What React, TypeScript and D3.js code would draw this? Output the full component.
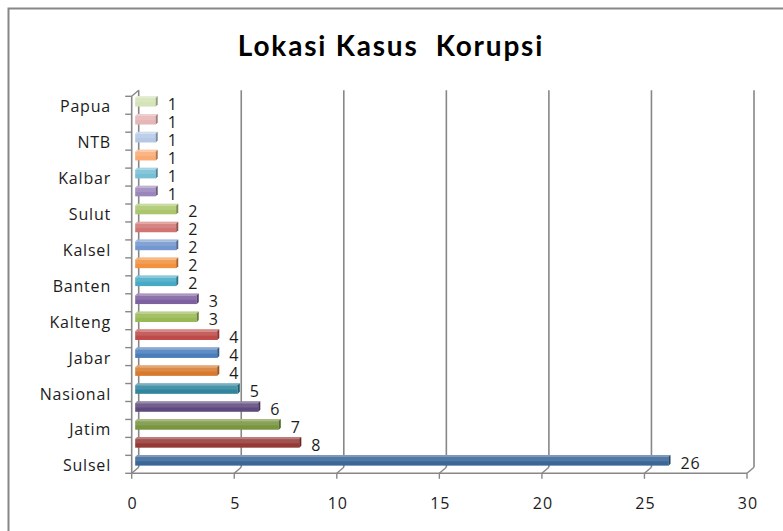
import React from 'react';
import { scaleLinear, scaleBand, range } from 'd3';

// bottom to top; Excel only printed every other category name
const categories = ['Sulsel', '', 'Jatim', '', 'Nasional', '', 'Jabar', '', 'Kalteng', '', 'Banten', '', 'Kalsel', '', 'Sulut', '', 'Kalbar', '', 'NTB', '', 'Papua'];
const values = [26, 8, 7, 6, 5, 4, 4, 4, 3, 3, 2, 2, 2, 2, 2, 1, 1, 1, 1, 1, 1];
const xTicks = [0, 5, 10, 15, 20, 25, 30];

// "vary colors by point" palette
const colors = [
  '#3b6698', '#953937', '#78953f', '#5f4a7d', '#31869e', '#d87a2e',
  '#4a7ebb', '#be4b48', '#98b954', '#7d60a0', '#46aac5', '#f29140',
  '#7497d0', '#d07572', '#abc66d', '#9a86ba', '#76bfd5', '#fbaa72',
  '#b5c9e6', '#e5b6b5', '#d4e3b8',
];

const W = 783;
const H = 531;
const DX = 7;
const DY = -6;
const FONT = "'Open Sans', sans-serif";
const GRID = '#878787';
const INK = '#1c1c1c';

function App() {
  const x = scaleLinear().domain([0, 30]).range([131.7, 747]);
  const idx = range(values.length);
  const y = scaleBand<number>()
    .domain([...idx].reverse())
    .range([96.3, 473.3])
    .paddingInner(0.52)
    .paddingOuter(0.26);
  const step = y.step();
  const bw = y.bandwidth();
  const top = 96.3;
  const bottom = 473.3;
  const x0 = x(0);

  return (
    <svg width={W} height={H} style={{ position: 'absolute', left: 0, top: 0, background: '#fff' }}>
      <rect x={8.5} y={8.5} width={W + 20} height={H + 20} fill="#fff" stroke={GRID} strokeWidth={2} />
      <text x={391} y={56} textAnchor="middle" fontFamily="Lato, sans-serif" fontWeight="bold" fontSize={28}
        letterSpacing={1.8} style={{ whiteSpace: 'pre' }} fill="#000">
        Lokasi Kasus  Korupsi
      </text>

      {/* back wall gridlines */}
      {xTicks.map((t) => (
        <line key={'g' + t} x1={x(t) + DX} x2={x(t) + DX} y1={top + DY} y2={bottom + DY} stroke={GRID} strokeWidth={1.6} />
      ))}
      {/* floor depth lines */}
      {xTicks.map((t) => (
        <line key={'f' + t} x1={x(t)} x2={x(t) + DX} y1={bottom} y2={bottom + DY} stroke={GRID} strokeWidth={1.4} />
      ))}
      {/* left wall */}
      <line x1={x0} x2={x0 + DX} y1={top} y2={top + DY} stroke={GRID} strokeWidth={1.4} />
      <line x1={x0} x2={x0} y1={top} y2={bottom} stroke={GRID} strokeWidth={1.6} />
      <line x1={x0} x2={x(30)} y1={bottom} y2={bottom} stroke={GRID} strokeWidth={1.6} />

      {/* axis ticks */}
      {range(values.length + 1).map((k) => (
        <line key={'yt' + k} x1={x0 - 6.5} x2={x0} y1={bottom - k * step} y2={bottom - k * step} stroke={GRID} strokeWidth={1.4} />
      ))}
      {xTicks.map((t) => (
        <line key={'xt' + t} x1={x(t)} x2={x(t)} y1={bottom} y2={bottom + 5.5} stroke={GRID} strokeWidth={1.4} />
      ))}

      {/* bars */}
      {idx.map((i) => {
        const v = values[i];
        const bx = x0 + DX / 2;
        const by = (y(i) as number) + DY / 2;
        const bx1 = bx + (x(v) - x0);
        const d = 2;
        const c = colors[i];
        return (
          <g key={'b' + i}>
            <rect x={bx} y={by} width={bx1 - bx} height={bw} fill={c} />
            <rect x={bx} y={by} width={bx1 - bx} height={bw / 2} fill="#fff" opacity={0.12} />
            <polygon points={`${bx},${by} ${bx + d},${by - d} ${bx1 + d},${by - d} ${bx1},${by}`} fill={c} />
            <polygon points={`${bx},${by} ${bx + d},${by - d} ${bx1 + d},${by - d} ${bx1},${by}`} fill="#fff" opacity={0.35} />
            <polygon points={`${bx1},${by} ${bx1 + d},${by - d} ${bx1 + d},${by + bw - d} ${bx1},${by + bw}`} fill={c} />
            <polygon points={`${bx1},${by} ${bx1 + d},${by - d} ${bx1 + d},${by + bw - d} ${bx1},${by + bw}`} fill="#000" opacity={0.3} />
            <text x={bx1 + d + 10} y={by + bw / 2 + 1.5} dominantBaseline="central" fontFamily={FONT} fontSize={16}
              letterSpacing={0.8} fill={INK}>
              {v}
            </text>
          </g>
        );
      })}

      {/* category labels */}
      {idx.map((i) =>
        categories[i] ? (
          <text key={'c' + i} x={111} y={(y(i) as number) + bw / 2 + 1} dominantBaseline="central" textAnchor="end"
            fontFamily={FONT} fontSize={16} fill={INK} letterSpacing={0.8}>
            {categories[i]}
          </text>
        ) : null
      )}

      {/* value axis labels */}
      {xTicks.map((t) => (
        <text key={'xl' + t} x={x(t) + 1} y={503} dominantBaseline="central" textAnchor="middle" fontFamily={FONT}
          fontSize={16} fill={INK} letterSpacing={1}>
          {t}
        </text>
      ))}
    </svg>
  );
}

export default App;
